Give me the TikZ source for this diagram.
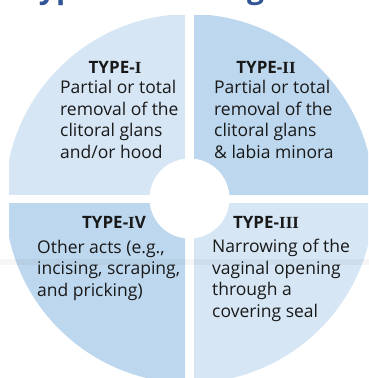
\documentclass[tikz,border=0pt]{standalone}
\usepackage{fontspec}
\setmainfont{Open Sans}
\newfontfamily\numfont{Liberation Serif}
\definecolor{lightq}{HTML}{D6E6F5}
\definecolor{darkq}{HTML}{BDD7EE}
\definecolor{titleblue}{HTML}{2F5597}
\tikzset{
  headtext/.style={font=\bfseries\fontsize{17}{21.7}\selectfont, anchor=base, inner sep=0pt, text=black!90},
  bodytext/.style={font=\fontsize{17.5}{21.7}\selectfont, align=left, anchor=base west, inner sep=0pt, text=black!90},
  titletext/.style={font=\bfseries\fontsize{30}{30}\selectfont, anchor=base west, inner sep=0pt, text=titleblue}
}
\begin{document}
\begin{tikzpicture}[x=1pt,y=-1pt]
\useasboundingbox (0,0) rectangle (369,378);
\coordinate (c) at (189.5,198.5);
% quadrants
\begin{scope}
  \clip (9,15) rectangle (185,194);
  \fill[lightq] (c) circle[radius=184.5];
\end{scope}
\begin{scope}
  \clip (194,15) rectangle (368,194);
  \fill[darkq] (c) circle[radius=184.5];
\end{scope}
\begin{scope}
  \clip (9,203) rectangle (185,378);
  \fill[darkq] (c) circle[radius=184.5];
\end{scope}
\begin{scope}
  \clip (194,203) rectangle (368,378);
  \fill[lightq] (c) circle[radius=184.5];
\end{scope}
\fill[white] (c) circle[radius=40];
% faint band
\fill[black, opacity=0.035] (0,259) rectangle (369,265);
% title (cut off at top)
\node[titletext] (title) at (22,-1.5) {Types of Cutting};
% texts
\node[headtext] (h1) at (115,73) {TYPE-{\numfont I}};
\node[bodytext] (b1) at (60,158.6) {Partial or total\\removal of the\\clitoral glans\\and/or hood};
\node[headtext] (h2) at (266,73) {TYPE-{\numfont II}};
\node[bodytext] (b2) at (214,158.6) {Partial or total\\removal of the\\clitoral glans\\\& labia minora};
\node[headtext] (h4) at (114,228) {TYPE-{\numfont I}V};
\node[bodytext] (b4) at (37,296.4) {Other acts (e.g.,\\incising, scraping,\\and pricking)};
\node[headtext] (h3) at (266,228) {TYPE-{\numfont III}};
\node[bodytext] (b3) at (212,317.6) {Narrowing of the\\vaginal opening\\through a\\covering seal};
\end{tikzpicture}
\end{document}
